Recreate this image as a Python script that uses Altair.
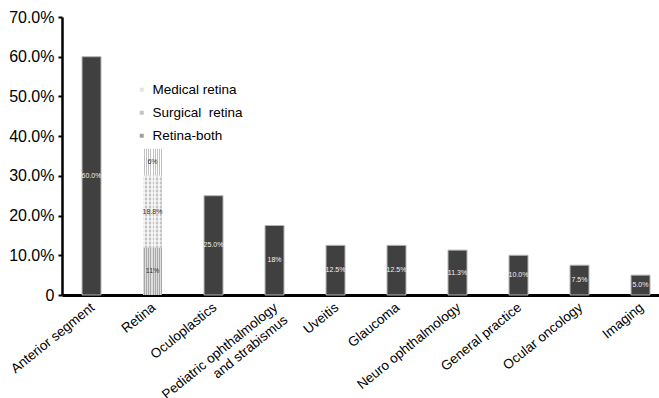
import altair as alt
import pandas as pd

# ---- data ----
categories = ["Anterior segment", "Retina", "Oculoplastics",
              "Pediatric ophthalmology\nand strabismus", "Uveitis", "Glaucoma",
              "Neuro ophthalmology", "General practice", "Ocular oncology", "Imaging"]
single_cats = ["Anterior segment", "Oculoplastics",
               "Pediatric ophthalmology\nand strabismus", "Uveitis", "Glaucoma",
               "Neuro ophthalmology", "General practice", "Ocular oncology", "Imaging"]
single_vals = [60.0, 25.0, 17.5, 12.5, 12.5, 11.3, 10.0, 7.5, 5.0]
single_labels = ["60.0%", "25.0%", "18%", "12.5%", "12.5%", "11.3%", "10.0%", "7.5%", "5.0%"]

# Retina stacked bar (bottom to top)
retina_segments = ["Retina-both", "Surgical\u00a0 retina", "Medical retina"]
retina_heights = [11.9, 18.1, 6.8]
retina_labels = ["11%", "18.8%", "6%"]
legend_order = ["Medical retina", "Surgical\u00a0 retina", "Retina-both"]
legend_colors = ["#e4e4e4", "#c4c4c4", "#a0a0a0"]

y_ticks = [0, 10, 20, 30, 40, 50, 60, 70]

# ---- tables ----
df_single = pd.DataFrame({"cat": single_cats, "val": single_vals, "lab": single_labels})
df_single["mid"] = df_single["val"] / 2

y0, acc = [], 0.0
for h in retina_heights:
    y0.append(acc)
    acc += h
df_ret = pd.DataFrame({"cat": "Retina", "seg": retina_segments,
                       "y0": y0, "y1": [a + h for a, h in zip(y0, retina_heights)],
                       "lab": retina_labels})
df_ret["mid"] = (df_ret["y0"] + df_ret["y1"]) / 2

# ---- pattern gradients (styling) ----
def stripes(c1, c2, n, horizontal=False):
    stops = []
    p = 1.0 / n
    for i in range(n):
        a, b, c = i * p, i * p + p / 2, (i + 1) * p
        stops += [alt.GradientStop(offset=a, color=c1), alt.GradientStop(offset=b, color=c1),
                  alt.GradientStop(offset=b, color=c2), alt.GradientStop(offset=c, color=c2)]
    if horizontal:
        return alt.Gradient(gradient="linear", stops=stops, x1=0, x2=0, y1=0, y2=1)
    return alt.Gradient(gradient="linear", stops=stops, x1=0, x2=1, y1=0, y2=0)

x_axis = alt.Axis(labelAngle=-39, labelAlign="right", labelBaseline="top",
                  ticks=False, labelPadding=5, labelOffset=-3, labelFontSize=13.5,
                  labelFont="Liberation Sans", labelColor="#000",
                  domainColor="#000", domainWidth=3, labelLineHeight=16,
                  labelOverlap=False, labelBound=False, title=None,
                  labelExpr="split(replace(datum.label, 'and strabismus', 'and strabismus\u00a0\u00a0\u00a0\u00a0\u00a0\u00a0\u00a0'), '\\n')")
x_scale = alt.Scale(domain=categories, paddingInner=0.689, paddingOuter=0.238, align=0.69)
x_enc = alt.X("cat:N", sort=categories, title=None, scale=x_scale, axis=x_axis)

y_scale = alt.Scale(domain=[0, 70], nice=False)
y_axis = alt.Axis(values=y_ticks, grid=False, title=None, labelFontSize=16,
                  labelFont="Liberation Sans", labelColor="#000",
                  labelExpr="datum.value == 0 ? '0' : format(datum.value, '.1f') + '%'",
                  domainColor="#000", domainWidth=2.5, ticks=True, tickSize=4,
                  tickColor="#000", tickWidth=2, labelPadding=4,
                  labelOverlap=False, labelFlush=False, labelBound=False)

def Y(field):
    return alt.Y(field, scale=y_scale, axis=y_axis, title=None)

base_single = alt.Chart(df_single)
bars = base_single.mark_bar(color="#404040", stroke="#b4b4b4", strokeWidth=1).encode(
    x=x_enc, y=Y("val:Q"))
bar_text = base_single.mark_text(color="#f2f2f2", fontSize=7, font="Liberation Sans").encode(
    x=x_enc, y=Y("mid:Q"), text="lab:N")

base_ret = alt.Chart(df_ret)
ret_legend = base_ret.mark_bar().encode(
    x=x_enc, y=Y("y0:Q"), y2="y1:Q",
    color=alt.Color("seg:N", scale=alt.Scale(domain=legend_order, range=legend_colors),
                    legend=alt.Legend(title=None, orient="none", legendX=73, legendY=66,
                                      symbolType="square", symbolSize=16, symbolStrokeWidth=0,
                                      labelFontSize=13.5, labelFont="Liberation Sans",
                                      labelColor="#000", rowPadding=8, labelOffset=4)))

def seg_layer(name, fill):
    return base_ret.transform_filter(alt.datum.seg == name).mark_bar(fill=fill).encode(
        x=x_enc, y=Y("y0:Q"), y2="y1:Q")

med = seg_layer("Medical retina", stripes("#ffffff", "#c0c0c0", 9))
surg = seg_layer("Surgical\u00a0 retina", stripes("#eeeeee", "#c4c4c4", 5))
surg_h = seg_layer("Surgical\u00a0 retina",
                   stripes("rgba(255,255,255,0.5)", "rgba(255,255,255,0)", 18, horizontal=True))
both = seg_layer("Retina-both", stripes("#dedede", "#a8a8a8", 9))
ret_text = base_ret.mark_text(color="#333333", fontSize=7, font="Liberation Sans").encode(
    x=x_enc, y=Y("mid:Q"), text="lab:N")

chart = alt.layer(bars, ret_legend, med, surg, surg_h, both, bar_text, ret_text).properties(
    width=597, height=278,
    autosize=alt.AutoSizeParams(type="none"),
    padding={"left": 62, "top": 17, "right": 0, "bottom": 103},
    background="white",
).configure_view(stroke=None)

chart.save("out.html", embed_options={"renderer": "svg", "actions": False})
